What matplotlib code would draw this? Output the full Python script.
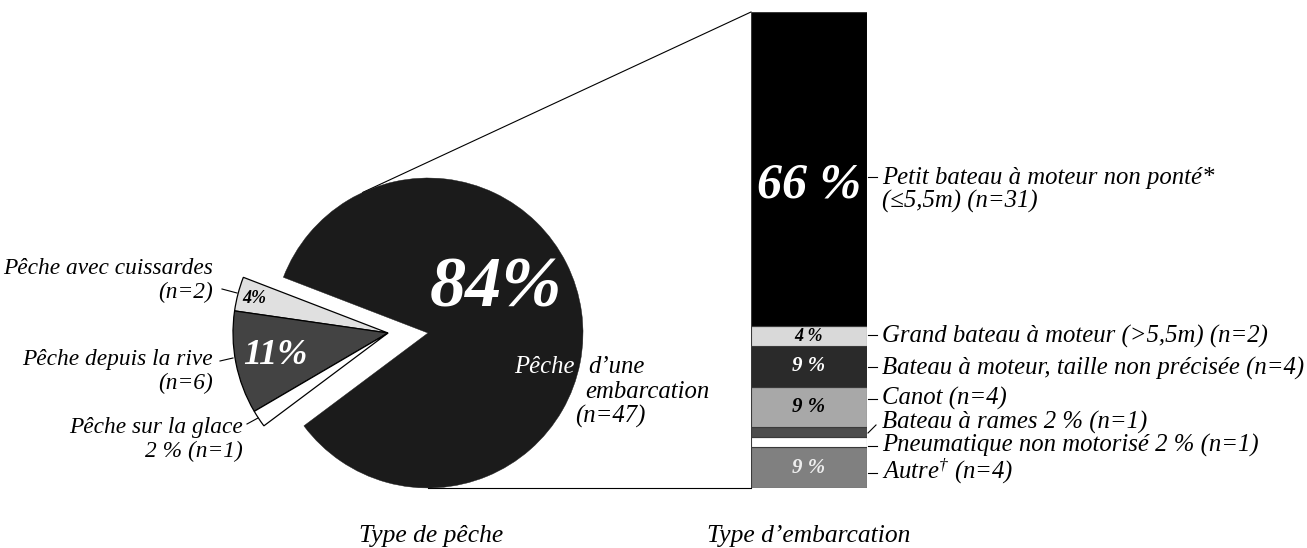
import numpy as np
import matplotlib
matplotlib.use("Agg")
import matplotlib.pyplot as plt

plt.rcParams['font.family'] = ['Liberation Serif', 'DejaVu Serif']
plt.rcParams['font.style'] = 'italic'
plt.rcParams['mathtext.fontset'] = 'custom'
plt.rcParams['mathtext.rm'] = 'Liberation Serif:italic'
plt.rcParams['mathtext.it'] = 'Liberation Serif:italic'

# ---------------- data ----------------
peche_labels = ["Pêche d’une embarcation", "Pêche avec cuissardes",
                "Pêche depuis la rive", "Pêche sur la glace"]
peche_n = [47, 2, 6, 1]
peche_pct = ["84%", "4%", "11%", "2 %"]

emb_labels = ["Autre$^{†}$", "Pneumatique non motorisé 2 %", "Bateau à rames 2 %",
              "Canot", "Bateau à moteur, taille non précisée",
              "Grand bateau à moteur (>5,5m)",
              "Petit bateau à moteur non ponté*\n(≤5,5m)"]
emb_n = [4, 1, 1, 4, 4, 2, 31]
emb_pct = ["9 %", "2 %", "2 %", "9 %", "9 %", "4 %", "66 %"]

titles = ["Type de pêche", "Type d’embarcation"]

# ---------------- style ----------------
W, H = 1307, 548
peche_colors = ['#1b1b1b', '#e0e0e0', '#434343', '#ffffff']
emb_colors = ['#808080', '#ffffff', '#4d4d4d', '#a8a8a8', '#2a2a2a', '#d9d9d9', '#000000']
emb_txt_colors = ['#eeeeee', None, None, '#000000', '#ffffff', '#000000', '#ffffff']
emb_txt_size = [15, 0, 0, 15, 15, 13, 36]
emb_txt_dy = [0, 0, 0, 0, 0, 0, -1.6]   # in counts (label of the large block sits lower)

lab_fs_left = 16.8
lab_fs_right = 17.8
title_fs = 18.4


def Y(y_img):
    return H - y_img


fig = plt.figure(figsize=(W / 100, H / 100), dpi=100)
ax = fig.add_axes([0, 0, 1, 1])

center = np.array([428.0, Y(333)])
radius = 155.0
shift = np.array([-40.0, 0.0])
start = 216.8  # lower edge of the main slice

wedges, _ = ax.pie(peche_n, colors=peche_colors, startangle=start, counterclock=True,
                   center=tuple(center), radius=radius,
                   wedgeprops=dict(edgecolor='black', linewidth=0.9))
wedges[0].set_edgecolor(peche_colors[0])
wedges[0].set_linewidth(0.3)
for w in wedges[1:]:
    w.set_center(tuple(center + shift))
for w in wedges:
    w.set_zorder(2)

ax.set_xlim(0, W)
ax.set_ylim(0, H)
ax.set_aspect('equal')
ax.axis('off')


def polar(c, ang, r):
    a = np.deg2rad(ang)
    return c[0] + r * np.cos(a), c[1] + r * np.sin(a)


# percentage labels inside the pie
x, y = polar(center, 33, 0.52 * radius)
ax.text(x, y, peche_pct[0], color='white', fontsize=52, fontweight='bold',
        ha='center', va='center', zorder=5)
for i, frac, col, fs in [(1, 0.89, 'black', 13), (2, 0.74, 'white', 26)]:
    w = wedges[i]
    mid = (w.theta1 + w.theta2) / 2
    x, y = polar(center + shift, mid, frac * radius)
    ax.text(x, y, peche_pct[i], color=col, fontsize=fs, fontweight='bold',
            ha='center', va='center', zorder=5)

# labels of the small slices (left)
left_specs = [
    (f"{peche_labels[1]}\n(n={peche_n[1]})", (213, 298), ((222, 289), (237, 293))),
    (f"{peche_labels[2]}\n(n={peche_n[2]})", (213, 389), ((220, 361), (233, 358))),
    (f"{peche_labels[3]}\n{peche_pct[3]} (n={peche_n[3]})", (243, 457), ((247, 424), (258, 418))),
]
for txt, (tx, ty), ((x0, y0), (x1, y1)) in left_specs:
    ax.text(tx, Y(ty), txt, ha='right', va='baseline', multialignment='right',
            fontsize=lab_fs_left, linespacing=1.2, zorder=5)
    ax.plot([x0, x1], [Y(y0), Y(y1)], color='black', lw=0.8, zorder=4)

# label of the main slice ("Pêche" lies on the dark slice -> white)
words = peche_labels[0].split(" ")
main_lines = [(words[0], 514, 373, 'white'),
              (words[1], 588, 373, 'black'),
              (" ".join(words[2:]), 585, 398, 'black'),
              (f"(n={peche_n[0]})", 575, 423, 'black')]
for txt, tx, ty, col in main_lines:
    ax.text(tx, Y(ty), txt, color=col, fontsize=lab_fs_right, ha='left',
            va='baseline', zorder=5)

# ---------------- stacked bar ----------------
bx0, bx1, by0, by1 = 751, 867, 488, 12
bax = fig.add_axes([bx0 / W, Y(by0) / H, (bx1 - bx0) / W, (by0 - by1) / H])
total = sum(emb_n)
bottoms = np.concatenate([[0], np.cumsum(emb_n)[:-1]])
bax.bar(0, emb_n, bottom=bottoms, width=1.0, color=emb_colors,
        edgecolor='#3a3a3a', linewidth=0.8)
bax.set_xlim(-0.5, 0.5)
bax.set_ylim(0, total)
bax.axis('off')

for n, b, p, c, fs, dy in zip(emb_n, bottoms, emb_pct, emb_txt_colors, emb_txt_size, emb_txt_dy):
    if c is None:
        continue
    bax.text(0, b + n / 2 + dy, p, color=c, fontsize=fs, fontweight='bold',
             ha='center', va='center')

# labels right of the bar (baseline in image px, tick start/end)
right_pos = [(478, (473, 473)), (452, (446, 446)), (429, (433, 425)),
             (405, (399, 399)), (375, (367, 367)), (343, (335, 335)),
             (184, (177, 177))]
for lab, n, (ty, (t0, t1)) in zip(emb_labels, emb_n, right_pos):
    if "\n" in lab:
        l1, l2 = lab.split("\n")
        ax.text(882, Y(ty), l1, ha='left', va='baseline', fontsize=lab_fs_right)
        ax.text(882, Y(ty + 24), f"{l2} (n={n})", ha='left', va='baseline',
                fontsize=lab_fs_right)
    else:
        ax.text(882, Y(ty), f"{lab} (n={n})", ha='left', va='baseline',
                fontsize=lab_fs_right)
    ax.plot([bx1 + 1, 877 if t0 == t1 else 876], [Y(t0), Y(t1)], color='black', lw=0.8)


# connector lines: tangents from bar corners to the main slice circle
def tangent(P, C, r, sign):
    d = np.asarray(P) - C
    dist = np.hypot(*d)
    ang = np.arctan2(d[1], d[0]) + sign * np.arccos(r / dist)
    return C + r * np.array([np.cos(ang), np.sin(ang)])


inv = ax.transData.inverted()
top_corner = inv.transform(bax.transData.transform((-0.5, total)))
bot_corner = inv.transform(bax.transData.transform((-0.5, 0)))
for P, s in [(top_corner, 1), (bot_corner, -1)]:
    T = tangent(P, center, radius, s)
    ax.plot([P[0], T[0]], [P[1], T[1]], color='black', lw=0.8, zorder=1)

# titles
ax.text(center[0] + 3, Y(542), titles[0], ha='center', va='baseline', fontsize=title_fs)
ax.text((bx0 + bx1) / 2, Y(542), titles[1], ha='center', va='baseline', fontsize=title_fs)

fig.savefig("out.png", dpi=100)
